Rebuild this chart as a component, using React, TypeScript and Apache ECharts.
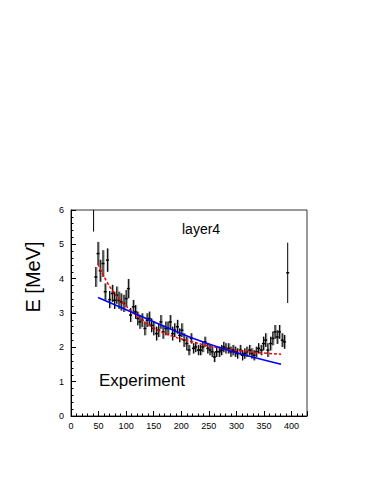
import React, { useEffect, useRef } from 'react';
import * as echarts from 'echarts';

// Measured points (x in same units as the axis, energy in MeV, symmetric error)
const pointX = [45, 49, 53, 58, 62, 66, 70, 75, 79, 83, 87, 91, 96, 100, 104, 108, 113, 117, 121, 125, 129, 134, 138, 142, 146, 150, 155, 159, 163, 167, 172, 176, 180, 184, 188, 193, 197, 201, 205, 210, 214, 218, 222, 226, 231, 235, 239, 243, 248, 252, 256, 260, 264, 269, 273, 277, 281, 286, 290, 294, 298, 302, 307, 311, 315, 319, 324, 328, 332, 336, 340, 345, 349, 353, 357, 362, 366, 370, 374, 378, 383, 387];
const pointY = [4.05, 4.73, 4.23, 4.44, 3.62, 4.54, 3.39, 3.57, 3.37, 3.52, 3.37, 3.32, 3.28, 3.42, 3.71, 2.94, 3.18, 3.03, 2.84, 2.74, 2.79, 2.55, 2.79, 2.84, 2.64, 2.55, 2.40, 2.50, 2.74, 2.45, 2.55, 2.55, 2.74, 2.40, 2.50, 2.60, 2.35, 2.50, 2.21, 2.11, 1.92, 2.26, 1.97, 2.01, 1.92, 1.92, 2.01, 2.16, 1.97, 1.92, 1.87, 1.72, 1.87, 1.87, 1.92, 2.01, 1.97, 1.97, 1.87, 1.92, 1.87, 1.82, 1.92, 1.77, 1.82, 1.87, 1.92, 1.82, 1.77, 1.87, 1.97, 1.92, 2.11, 2.21, 1.92, 2.11, 2.26, 2.45, 2.30, 2.45, 2.21, 2.16];
const pointErr = [0.29, 0.34, 0.32, 0.39, 0.24, 0.34, 0.25, 0.25, 0.25, 0.25, 0.25, 0.25, 0.25, 0.25, 0.28, 0.2, 0.2, 0.2, 0.2, 0.2, 0.2, 0.2, 0.2, 0.2, 0.2, 0.2, 0.2, 0.2, 0.2, 0.2, 0.2, 0.2, 0.2, 0.2, 0.2, 0.2, 0.2, 0.2, 0.2, 0.2, 0.15, 0.15, 0.15, 0.15, 0.15, 0.15, 0.15, 0.15, 0.15, 0.15, 0.15, 0.15, 0.15, 0.15, 0.15, 0.15, 0.15, 0.15, 0.15, 0.15, 0.15, 0.15, 0.15, 0.15, 0.15, 0.15, 0.15, 0.15, 0.15, 0.15, 0.15, 0.15, 0.2, 0.2, 0.2, 0.2, 0.2, 0.2, 0.2, 0.2, 0.2, 0.2];

// Isolated points
const extraX = [41, 393];
const extraY = [6.5, 4.17];
const extraErr = [1.13, 0.88];

// Fit curves
const blueX = [49, 95, 155, 215, 276, 336, 381];
const blueY = [3.45, 3.13, 2.71, 2.30, 1.96, 1.69, 1.51];
const redX = [49, 65, 80, 95, 125, 155, 185, 215, 245, 276, 306, 336, 381];
const redY = [4.42, 3.91, 3.55, 3.28, 2.84, 2.52, 2.32, 2.18, 2.06, 1.96, 1.90, 1.85, 1.80];

const xLabels = ['0', '50', '100', '150', '200', '250', '300', '350', '400'];
const yLabels = ['0', '1', '2', '3', '4', '5', '6'];

const X_MIN = 0, X_MAX = 428, Y_MIN = 0, Y_MAX = 6;
const FONT = "'Liberation Sans', Arial, Helvetica, sans-serif";

function makeRender(withBand: boolean) {
  return (params: any, api: any) => {
    const x = api.value(0), y = api.value(1), e = api.value(2);
    const top = Math.min(y + e, Y_MAX), bot = Math.max(y - e, Y_MIN);
    const pTop = api.coord([x, top]);
    const pBot = api.coord([x, bot]);
    const pC = api.coord([x, y]);
    const children: any[] = [];
    if (withBand) {
      children.push({ type: 'rect', shape: { x: pTop[0] - 0.5, y: pTop[1], width: 2.2, height: pBot[1] - pTop[1] }, style: { fill: '#a0a0a0' } });
    }
    children.push({ type: 'line', shape: { x1: pTop[0], y1: pTop[1], x2: pBot[0], y2: pBot[1] }, style: { stroke: '#000', lineWidth: 1 } });
    if (y <= Y_MAX) {
      children.push({ type: 'line', shape: { x1: pC[0] - 1.5, y1: pC[1], x2: pC[0] + 1.5, y2: pC[1] }, style: { stroke: '#000', lineWidth: 1.5 } });
    }
    return { type: 'group', children };
  };
}

export default function App() {
  const ref = useRef<HTMLDivElement>(null);
  useEffect(() => {
    if (!ref.current) return;
    const chart = echarts.init(ref.current, null, { renderer: 'svg' });
    const mainData = pointX.map((x, i) => [x, pointY[i], pointErr[i]]);
    const extraData = extraX.map((x, i) => [x, extraY[i], extraErr[i]]);
    chart.setOption({
      animation: false,
      backgroundColor: '#fff',
      grid: { left: 71, top: 210, width: 236, height: 206, show: true, borderColor: '#333', borderWidth: 1, backgroundColor: 'transparent' },
      xAxis: {
        type: 'value', min: X_MIN, max: X_MAX, interval: 50,
        axisLine: { show: true, lineStyle: { color: '#000', width: 1 } },
        axisTick: { show: true, inside: true, length: 5, lineStyle: { color: '#000' } },
        minorTick: { show: true, splitNumber: 5, length: 2.5, lineStyle: { color: '#000' } },
        splitLine: { show: false },
        axisLabel: {
          margin: 5, fontSize: 9, color: '#000', fontFamily: FONT, showMaxLabel: false,
          formatter: (v: number) => { const s = String(Math.round(v)); return xLabels.includes(s) && v % 50 === 0 ? s : ''; },
        },
      },
      yAxis: {
        type: 'value', min: Y_MIN, max: Y_MAX, interval: 1,
        axisLine: { show: true, lineStyle: { color: '#000', width: 1 } },
        axisTick: { show: true, inside: true, length: 5, lineStyle: { color: '#000' } },
        minorTick: { show: true, splitNumber: 5, length: 2.5, lineStyle: { color: '#000' } },
        splitLine: { show: false },
        axisLabel: {
          margin: 7, fontSize: 9, color: '#000', fontFamily: FONT,
          formatter: (v: number) => yLabels[Math.round(v)] ?? '',
        },
      },
      series: [
        { type: 'custom', renderItem: makeRender(true), data: mainData, encode: { x: 0, y: 1 }, z: 2, clip: true },
        { type: 'custom', renderItem: makeRender(false), data: extraData, encode: { x: 0, y: 1 }, z: 2, clip: true },
        {
          type: 'line', data: redX.map((x, i) => [x, redY[i]]), smooth: true, showSymbol: false, symbol: 'none', z: 4,
          lineStyle: { color: '#ff0000', width: 1.5, type: [3, 2] },
        },
        {
          type: 'line', data: blueX.map((x, i) => [x, blueY[i]]), smooth: true, showSymbol: false, symbol: 'none', z: 4,
          lineStyle: { color: '#0000ff', width: 1.5 },
        },
      ],
      graphic: [
        { type: 'text', left: 182, top: 222, style: { text: 'layer4', font: `14px ${FONT}`, fill: '#000' } },
        { type: 'text', left: 99, top: 372, style: { text: 'Experiment', font: `17px ${FONT}`, fill: '#000' } },
        {
          type: 'text', x: 33, y: 277, rotation: Math.PI / 2,
          style: { text: 'E [MeV]', font: `20px ${FONT}`, fill: '#000', align: 'center', verticalAlign: 'middle' },
        },
      ],
    });
    return () => chart.dispose();
  }, []);
  return <div ref={ref} style={{ position: 'absolute', left: 0, top: 0, width: 376, height: 487 }} />;
}
